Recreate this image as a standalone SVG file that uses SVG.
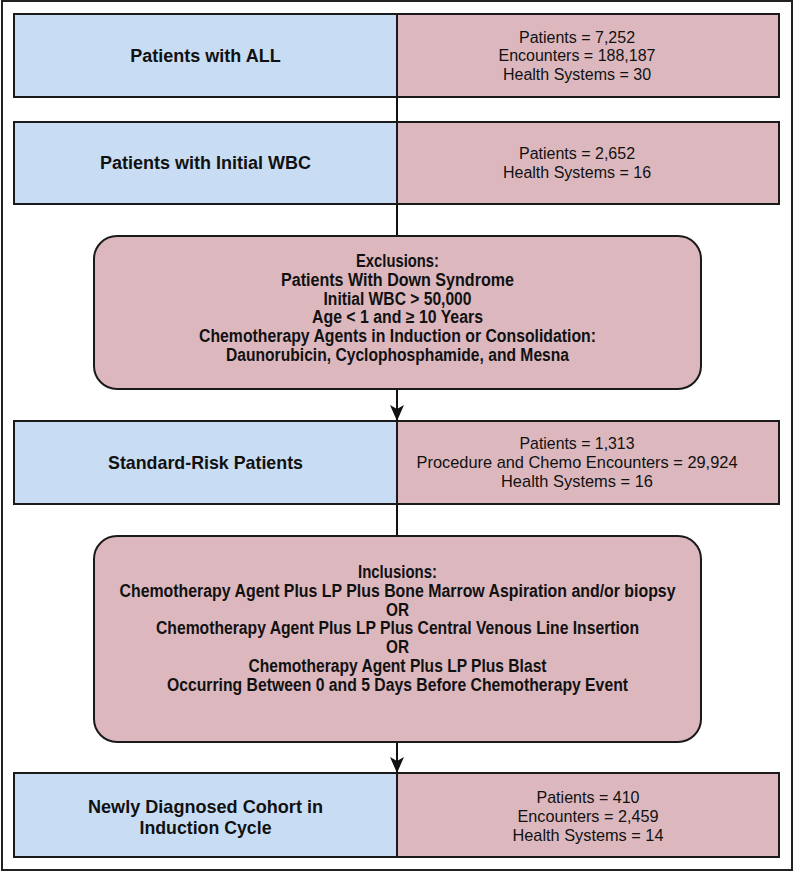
<svg xmlns="http://www.w3.org/2000/svg" width="794" height="872" viewBox="0 0 794 872">
<style>
.blue{fill:#c8ddf4;stroke:#1a1a1a;stroke-width:2}
.pink{fill:#dcb8be;stroke:#1a1a1a;stroke-width:2}
.t{font-family:"Liberation Sans",Arial,sans-serif;fill:#111;text-anchor:middle}
.b{font-weight:bold;font-size:18px}
.r{font-size:16px}
.c{font-family:"Liberation Sans Narrow","Liberation Sans",Arial,sans-serif;fill:#111;text-anchor:middle}
.cb{font-weight:bold;font-size:17.5px}
.cb18{font-weight:bold;font-size:19px}
.cr{font-size:17px}
.ln{stroke:#111;stroke-width:2;fill:none}
</style>
<defs>
<marker id="arr" viewBox="0 0 16 14" refX="16" refY="7" markerWidth="17" markerHeight="14" orient="auto" markerUnits="userSpaceOnUse">
<path d="M0,0 L16,7 L0,14 L4,7 Z" fill="#111"/>
</marker>
</defs>
<rect x="2" y="1" width="790" height="869" fill="#fff" stroke="#222" stroke-width="2"/>
<g id="connectors">
<line class="ln" x1="397" y1="97" x2="397" y2="122"/>
<line class="ln" x1="397" y1="204" x2="397" y2="236"/>
<line class="ln" x1="397" y1="389" x2="397" y2="421" marker-end="url(#arr)"/>
<line class="ln" x1="397" y1="504" x2="397" y2="536"/>
<line class="ln" x1="397" y1="742" x2="397" y2="773" marker-end="url(#arr)"/>
</g>
<g id="all">
<rect class="blue" x="14" y="14" width="383" height="83"/>
<rect class="pink" x="397" y="14" width="382" height="83"/>
<text class="t b" x="205.5" y="61.5">Patients with ALL</text>
<text class="t r" x="577" y="42.5">Patients = 7,252</text>
<text class="t r" x="577" y="61">Encounters = 188,187</text>
<text class="t r" x="577" y="79.5">Health Systems = 30</text>
</g>
<g id="wbc">
<rect class="blue" x="14" y="122" width="383" height="82"/>
<rect class="pink" x="397" y="122" width="382" height="82"/>
<text class="t b" x="205.5" y="169">Patients with Initial WBC</text>
<text class="t r" x="577" y="159">Patients = 2,652</text>
<text class="t r" x="577" y="178">Health Systems = 16</text>
</g>
<g id="exclusions">
<rect class="pink" x="94" y="236" width="607" height="153" rx="23"/>
<text class="c cb" x="397.5" y="267" textLength="83" lengthAdjust="spacingAndGlyphs">Exclusions:</text>
<text class="c cb" x="397.5" y="285.8" textLength="233" lengthAdjust="spacingAndGlyphs">Patients With Down Syndrome</text>
<text class="c cb" x="397.5" y="304.6" textLength="148" lengthAdjust="spacingAndGlyphs">Initial WBC &gt; 50,000</text>
<text class="c cb" x="397.5" y="323.4" textLength="171" lengthAdjust="spacingAndGlyphs">Age &lt; 1 and ≥ 10 Years</text>
<text class="c cb" x="397.5" y="342.2" textLength="397" lengthAdjust="spacingAndGlyphs">Chemotherapy Agents in Induction or Consolidation:</text>
<text class="c cb" x="397.5" y="361" textLength="343" lengthAdjust="spacingAndGlyphs">Daunorubicin, Cyclophosphamide, and Mesna</text>
</g>
<g id="standard">
<rect class="blue" x="14" y="421" width="383" height="83"/>
<rect class="pink" x="397" y="421" width="382" height="83"/>
<text class="c cb18" x="205.5" y="469" textLength="195" lengthAdjust="spacingAndGlyphs">Standard-Risk Patients</text>
<text class="c cr" x="577" y="449" textLength="115" lengthAdjust="spacingAndGlyphs">Patients = 1,313</text>
<text class="c cr" x="577" y="468" textLength="321" lengthAdjust="spacingAndGlyphs">Procedure and Chemo Encounters = 29,924</text>
<text class="c cr" x="577" y="487" textLength="152" lengthAdjust="spacingAndGlyphs">Health Systems = 16</text>
</g>
<g id="inclusions">
<rect class="pink" x="94" y="536" width="607" height="206" rx="23"/>
<text class="c cb" x="397.5" y="577.7" textLength="79" lengthAdjust="spacingAndGlyphs">Inclusions:</text>
<text class="c cb" x="397.5" y="596.6" textLength="556" lengthAdjust="spacingAndGlyphs">Chemotherapy Agent Plus LP Plus Bone Marrow Aspiration and/or biopsy</text>
<text class="c cb" x="397.5" y="615.5" textLength="23" lengthAdjust="spacingAndGlyphs">OR</text>
<text class="c cb" x="397.5" y="634.4" textLength="483" lengthAdjust="spacingAndGlyphs">Chemotherapy Agent Plus LP Plus Central Venous Line Insertion</text>
<text class="c cb" x="397.5" y="653.3" textLength="23" lengthAdjust="spacingAndGlyphs">OR</text>
<text class="c cb" x="397.5" y="672.2" textLength="298" lengthAdjust="spacingAndGlyphs">Chemotherapy Agent Plus LP Plus Blast</text>
<text class="c cb" x="397.5" y="691.1" textLength="461" lengthAdjust="spacingAndGlyphs">Occurring Between 0 and 5 Days Before Chemotherapy Event</text>
</g>
<g id="cohort">
<rect class="blue" x="14" y="773" width="383" height="84"/>
<rect class="pink" x="397" y="773" width="382" height="84"/>
<text class="c cb18" x="205.5" y="812.5" textLength="235" lengthAdjust="spacingAndGlyphs">Newly Diagnosed Cohort in</text>
<text class="c cb18" x="205.5" y="834" textLength="132" lengthAdjust="spacingAndGlyphs">Induction Cycle</text>
<text class="c cr" x="588" y="803.3" textLength="103" lengthAdjust="spacingAndGlyphs">Patients = 410</text>
<text class="c cr" x="588" y="822" textLength="141" lengthAdjust="spacingAndGlyphs">Encounters = 2,459</text>
<text class="c cr" x="588" y="840.8" textLength="151" lengthAdjust="spacingAndGlyphs">Health Systems = 14</text>
</g>
</svg>
